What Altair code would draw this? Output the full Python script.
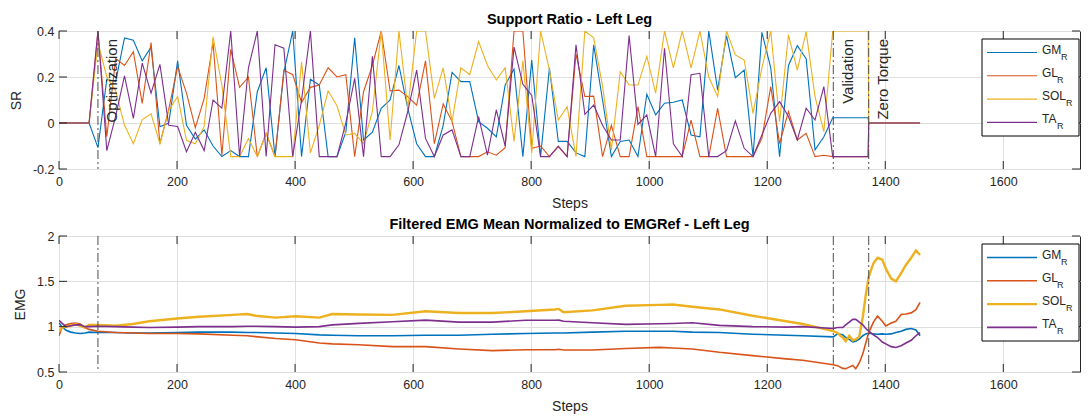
import altair as alt
import pandas as pd

FONT = "Liberation Sans"
INK = "#262626"
GRID = "#dfdfdf"
NAMES = ["GM", "GL", "SOL", "TA"]
COLORS = ["#0072BD", "#D95319", "#EDB120", "#7E2F8E"]

# ---------------- Support ratio (top panel) ----------------
sr_steps = [0, 51, 66, 81, 96, 111, 126, 141, 156, 171, 186, 201, 216, 231, 246, 261, 276,
            291, 306, 321, 336, 351, 366, 381, 396, 411, 426, 441, 456, 471, 486, 501, 516,
            531, 546, 561, 576, 591, 606, 621, 636, 651, 666, 681, 696, 711, 726, 741, 756,
            771, 786, 801, 816, 831, 846, 861, 876, 891, 906, 921, 936, 951, 966, 981, 996,
            1011, 1026, 1041, 1056, 1071, 1086, 1101, 1116, 1131, 1146, 1161, 1176, 1191,
            1206, 1221, 1236, 1251, 1266, 1281, 1296, 1311, 1371, 1372, 1459]

sr_gm = [0, 0, -0.107, 0.19, 0.18, 0.37, 0.36, 0.27, 0.33, -0.016, 0.0, 0.27, -0.01, -0.07,
         -0.03, -0.1, -0.146, -0.12, -0.146, -0.146, 0.136, 0.24, -0.146, 0.22, 0.4, -0.146,
         0.19, 0.165, -0.146, -0.146, -0.04, 0.37, -0.074, -0.04, 0.064, 0.1, 0.25, 0.064,
         -0.09, -0.146, -0.146, -0.01, 0.22, 0.18, 0.18, 0.006, -0.023, -0.06, 0.165, 0.235,
         -0.146, 0.274, -0.146, 0.24, -0.08, -0.08, -0.13, -0.146, 0.34, 0.1, -0.146, -0.08,
         -0.074, -0.146, 0.125, 0.035, 0.086, 0.09, 0.1, -0.052, -0.06, 0.4, 0.143, 0.38,
         0.197, 0.23, -0.146, 0.394, 0.24, -0.146, 0.25, 0.336, 0.28, -0.117, -0.06, 0.023,
         0.023, 0, 0]
sr_gl = [0, 0, 0.4, -0.06, 0.28, 0.25, 0.31, 0.085, 0.35, -0.09, 0.06, 0.245, 0.13, -0.02,
         0.107, 0.35, -0.14, 0.32, 0.155, 0.2, -0.146, -0.045, -0.146, 0.23, 0.21, 0.09,
         0.155, 0.165, 0.24, 0.2, 0.21, -0.146, 0.136, 0.25, 0.4, 0.14, 0.143, 0.115, 0.078,
         0.27, -0.09, 0.083, 0.006, -0.146, -0.146, -0.146, -0.125, -0.14, -0.107, 0.4, 0.4,
         -0.11, -0.1, -0.146, -0.103, -0.146, 0.3, 0.115, 0.117, -0.146, -0.01, -0.146,
         -0.146, 0.071, -0.146, -0.146, -0.146, -0.146, -0.146, 0.013, -0.146, -0.146, 0.064,
         -0.146, -0.146, -0.146, -0.146, -0.067, 0.158, -0.09, 0.05, -0.074, -0.045, -0.146,
         -0.14, -0.146, -0.146, 0, 0]
sr_sol = [0, 0, 0.35, 0.2, 0.14, -0.01, -0.09, 0.015, 0.04, -0.09, 0.055, 0.115, -0.075,
          -0.09, -0.015, 0.375, 0.165, -0.146, -0.146, -0.067, -0.146, -0.045, -0.146,
          -0.146, -0.146, 0.265, -0.13, -0.01, 0.14, 0.075, -0.052, -0.045, -0.09, 0.05, 0.4,
          -0.074, 0.4, 0.064, 0.4, 0.4, 0.107, 0.24, 0.006, 0.24, 0.21, 0.354, 0.25, 0.187,
          0.24, -0.08, 0.27, -0.13, 0.4, 0.23, 0.013, 0.071, -0.146, 0.4, 0.37, 0.16, -0.117,
          0.223, 0.165, 0.165, 0.29, 0.13, 0.4, 0.24, 0.4, 0.24, 0.4, 0.2, 0.115, 0.4, 0.296,
          0.274, 0.042, 0.24, 0.4, 0.006, 0.383, 0.23, 0.397, 0.115, -0.038, 0.4, 0.4, 0, 0]
sr_ta = [0, 0, 0.4, -0.12, 0.03, 0.205, 0.02, 0.26, 0.13, 0.255, -0.01, -0.015, -0.125,
         -0.04, -0.12, 0.1, 0.065, 0.4, -0.146, 0.24, 0.4, -0.146, 0.34, 0.325, -0.146, 0.1,
         0.4, -0.146, -0.146, -0.146, 0.0, 0.194, -0.146, 0.29, -0.146, -0.146, -0.095, 0.05,
         0.23, -0.067, -0.146, -0.052, -0.03, -0.146, -0.146, 0.028, -0.14, 0.057, -0.1, 0.33,
         0.168, 0.12, -0.146, -0.146, -0.1, -0.146, 0.34, 0.038, 0.078, -0.01, -0.074, -0.074,
         0.38, -0.006, 0.035, -0.146, 0.325, -0.09, -0.146, 0.21, 0.216, -0.146, -0.146,
         -0.12, 0.009, -0.11, -0.146, -0.052, 0.042, 0.093, 0.028, -0.074, 0.064, 0.013,
         0.158, -0.146, -0.146, 0, 0]

# ---------------- Filtered EMG (bottom panel) ----------------
emg_steps = [0, 5, 12, 20, 28, 36, 44, 51, 66, 96, 125, 153, 200, 237, 294, 319, 333, 367,
             401, 441, 463, 508, 565, 621, 678, 734, 791, 840, 847, 855, 904, 960, 1017, 1040,
             1073, 1119, 1175, 1232, 1260, 1312, 1319, 1328, 1333, 1339, 1345, 1350, 1356,
             1362, 1367, 1372, 1380, 1387, 1395, 1401, 1410, 1418, 1427, 1435, 1444, 1452,
             1459]
emg_gm = [1.04, 1.0, 0.96, 0.94, 0.93, 0.925, 0.93, 0.94, 0.935, 0.935, 0.93, 0.93, 0.935,
          0.94, 0.94, 0.935, 0.935, 0.93, 0.925, 0.91, 0.905, 0.9, 0.9, 0.905, 0.905, 0.917,
          0.924, 0.93, 0.93, 0.93, 0.94, 0.95, 0.95, 0.95, 0.94, 0.935, 0.917, 0.905, 0.9,
          0.888, 0.92, 0.91, 0.88, 0.86, 0.833, 0.84, 0.862, 0.9, 0.92, 0.93, 0.92, 0.917,
          0.92, 0.917, 0.92, 0.935, 0.95, 0.97, 0.98, 0.964, 0.9]
emg_gl = [0.9, 0.99, 1.02, 1.035, 1.04, 1.03, 0.99, 0.97, 0.95, 0.935, 0.93, 0.925, 0.925,
          0.92, 0.905, 0.9, 0.89, 0.87, 0.855, 0.82, 0.81, 0.8, 0.78, 0.78, 0.754, 0.736,
          0.746, 0.746, 0.75, 0.742, 0.743, 0.76, 0.772, 0.765, 0.754, 0.717, 0.681, 0.645,
          0.63, 0.58, 0.57, 0.54, 0.536, 0.554, 0.573, 0.536, 0.6, 0.7, 0.82, 0.935, 1.05,
          1.116, 1.06, 1.007, 1.04, 1.06, 1.134, 1.14, 1.152, 1.188, 1.268]
emg_sol = [0.95, 0.99, 1.0, 1.01, 1.03, 1.01, 0.99, 1.02, 1.02, 1.01, 1.03, 1.06, 1.09,
           1.11, 1.13, 1.14, 1.12, 1.1, 1.115, 1.1, 1.14, 1.135, 1.13, 1.17, 1.15, 1.15,
           1.17, 1.19, 1.196, 1.16, 1.18, 1.23, 1.24, 1.245, 1.22, 1.19, 1.12, 1.06, 1.03,
           0.95, 0.93, 0.88, 0.84, 0.9, 0.85, 0.86, 0.89, 1.11, 1.35, 1.55, 1.7, 1.76, 1.74,
           1.64, 1.53, 1.5, 1.59, 1.68, 1.76, 1.84, 1.79]
emg_ta = [1.07, 1.04, 1.0, 1.01, 1.02, 1.02, 1.0, 1.0, 1.005, 1.0, 0.995, 0.99, 0.995, 1.0,
          1.0, 1.005, 1.005, 1.0, 0.995, 1.0, 1.02, 1.036, 1.054, 1.072, 1.05, 1.05, 1.07,
          1.07, 1.072, 1.06, 1.043, 1.025, 1.032, 1.035, 1.043, 1.014, 1.0, 0.995, 1.0, 0.98,
          0.99, 0.99, 1.02, 1.05, 1.08, 1.08, 1.05, 1.02, 0.98, 0.95, 0.91, 0.88, 0.83, 0.81,
          0.78, 0.77, 0.79, 0.82, 0.85, 0.9, 0.935]

phase_steps = [66, 1312, 1372]
phase_labels = ["Optimization", "Validation", "Zero Torque"]
x_ticks = [0, 200, 400, 600, 800, 1000, 1200, 1400, 1600]
sr_ticks = [-0.2, 0, 0.2, 0.4]
emg_ticks = [0.5, 1, 1.5, 2]

W = 1021
XMAX = 1730
TICK = 8


def long_df(steps, series):
    rows = []
    for name, vals in zip(NAMES, series):
        for s, v in zip(steps, vals):
            rows.append({"step": s, "val": v, "muscle": name})
    return pd.DataFrame(rows)


def panel(df, height, ydom, yticks, ytitle, title, widths, with_text):
    xscale = alt.Scale(domain=[0, XMAX], nice=False, zero=False)
    yscale = alt.Scale(domain=ydom, nice=False, zero=False)
    X = alt.X("step:Q", scale=xscale, title="Steps",
              axis=alt.Axis(values=x_ticks, grid=True, gridColor=GRID, ticks=False,
                            domain=False, labelPadding=6, titlePadding=9,
                            labelFontSize=12.5, titleFontSize=14, labelFont=FONT,
                            titleFont=FONT, titleFontWeight="normal", labelColor=INK,
                            titleColor=INK, labelFlush=False, labelOverlap=False,
                            labelExpr="'' + datum.value"))
    Y = alt.Y("val:Q", scale=yscale, title=ytitle,
              axis=alt.Axis(values=yticks, grid=True, gridColor=GRID, ticks=False,
                            domain=False, labelPadding=5, titlePadding=9,
                            labelFontSize=12.5, titleFontSize=14, labelFont=FONT,
                            titleFont=FONT, titleFontWeight="normal", labelColor=INK,
                            titleColor=INK, labelExpr="'' + datum.value",
                            labelFlush=False, labelOverlap=False))
    layers = []
    for name, col, w in zip(NAMES, COLORS, widths):
        layers.append(
            alt.Chart(df[df.muscle == name]).mark_line(color=col, strokeWidth=w, clip=True)
            .encode(x=X, y=Y)
        )
    vdf = pd.DataFrame({"step": phase_steps, "label": phase_labels})
    layers.append(
        alt.Chart(vdf).mark_rule(color="#4d4d4d", strokeWidth=1, strokeDash=[9, 3, 2, 3])
        .encode(x=X)
    )
    if with_text:
        layers.append(
            alt.Chart(vdf).mark_text(angle=270, align="right", baseline="alphabetic",
                                     dy=19.5, fontSize=15, font=FONT, color=INK)
            .encode(x=X, y=alt.value(8), text="label:N")
        )
    xt = pd.DataFrame({"step": x_ticks})
    yt = pd.DataFrame({"val": yticks})
    layers.append(alt.Chart(xt).mark_rule(color=INK, strokeWidth=1)
                  .encode(x=X, y=alt.value(0), y2=alt.value(TICK)))
    layers.append(alt.Chart(xt).mark_rule(color=INK, strokeWidth=1)
                  .encode(x=X, y=alt.value(height - TICK), y2=alt.value(height)))
    layers.append(alt.Chart(yt).mark_rule(color=INK, strokeWidth=1)
                  .encode(y=Y, x=alt.value(0), x2=alt.value(TICK)))
    layers.append(alt.Chart(yt).mark_rule(color=INK, strokeWidth=1)
                  .encode(y=Y, x=alt.value(W - TICK), x2=alt.value(W)))

    # legend box
    one = alt.Data(values=[{"a": 1}])
    lx0, lx1, ly0, ly1 = 923, 1020, 8, 105
    layers.append(alt.Chart(one).mark_rect(fill="white", stroke="#000000", strokeWidth=1)
                  .encode(x=alt.value(lx0), x2=alt.value(lx1),
                          y=alt.value(ly0), y2=alt.value(ly1)))
    for i, (name, col, w) in enumerate(zip(NAMES, COLORS, widths)):
        yy = 21.5 + i * 23.3
        layers.append(alt.Chart(one).mark_rule(color=col, strokeWidth=w)
                      .encode(x=alt.value(928), x2=alt.value(978),
                              y=alt.value(yy), y2=alt.value(yy)))
        layers.append(alt.Chart(one).mark_text(align="left", baseline="middle",
                                               fontSize=12, font=FONT, color=INK)
                      .encode(x=alt.value(983), y=alt.value(yy - 3),
                              text=alt.value(name)))
        sub_x = 983 + {"GM": 19, "GL": 15, "SOL": 24, "TA": 15}[name]
        layers.append(alt.Chart(one).mark_text(align="left", baseline="middle",
                                               fontSize=9, font=FONT, color=INK)
                      .encode(x=alt.value(sub_x), y=alt.value(yy + 4),
                              text=alt.value("R")))
    return alt.layer(*layers).properties(
        width=W, height=height,
        title=alt.TitleParams(title, font=FONT, fontSize=14.5, fontWeight="bold",
                              color="#000000", anchor="middle", offset=-2,
                              frame="group"),
    )


sr_df = long_df(sr_steps, [sr_gm, sr_gl, sr_sol, sr_ta])
emg_df = long_df(emg_steps, [emg_gm, emg_gl, emg_sol, emg_ta])

top = panel(sr_df, 138, [-0.2, 0.4], sr_ticks, "SR", "Support Ratio - Left Leg",
            [1.1, 1.1, 1.1, 1.1], True)
bottom = panel(emg_df, 136, [0.5, 2], emg_ticks, "EMG",
               "Filtered EMG Mean Normalized to EMGRef - Left Leg",
               [1.6, 1.6, 2.4, 1.6], False)

chart = (
    alt.vconcat(top, bottom, spacing=5)
    .properties(padding={"left": 0, "top": 3, "right": 0, "bottom": 0},
                background="white")
    .configure_view(stroke=INK, strokeWidth=1)
)

chart.save("out.html", embed_options={"renderer": "svg", "actions": False})
